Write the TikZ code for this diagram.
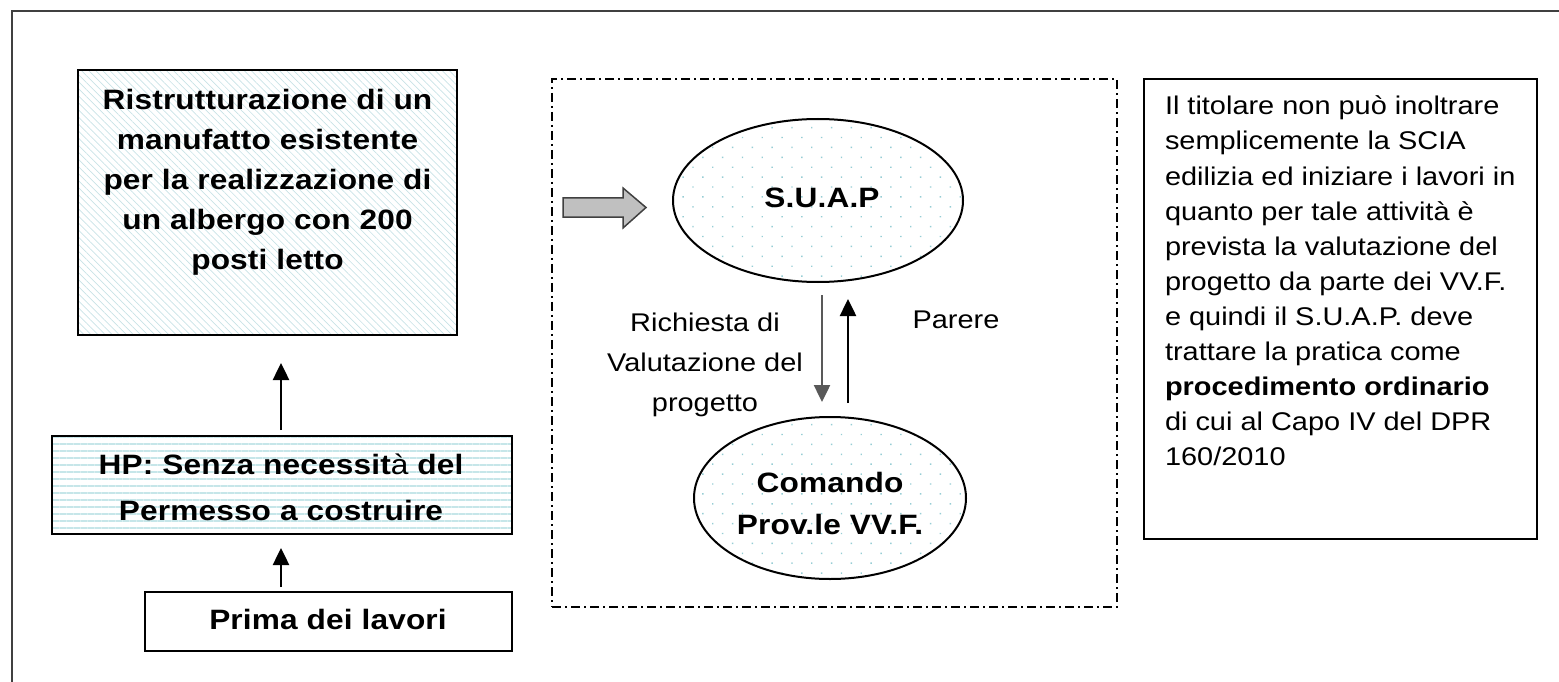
\documentclass[tikz,border=0pt]{standalone}
\usepackage{fontspec}
\setmainfont{Liberation Sans}[FakeStretch=1.13]
\newfontfamily\boxfont{Liberation Sans}[FakeStretch=1.13,LetterSpace=0.5]
\usetikzlibrary{arrows.meta,patterns.meta,shapes.geometric}

\definecolor{hatchblue}{RGB}{200,226,230}
\definecolor{stripeblue}{RGB}{198,230,233}
\definecolor{dotblue}{RGB}{150,205,212}
\definecolor{framegray}{RGB}{64,64,64}
\definecolor{arrowfill}{RGB}{192,192,192}

\begin{document}
\begin{tikzpicture}[x=1pt,y=-1pt,
  every node/.style={inner sep=0pt,outer sep=0pt},
  plaintext/.style={font=\fontsize{25.6}{40}\selectfont,align=center},
  boldtext/.style={font=\fontsize{28}{40}\boxfont\bfseries,align=center},
  stepbox/.style={draw=black,line width=2pt,rectangle},
  ovalbox/.style={draw=black,line width=2pt,ellipse,
    pattern={Dots[angle=45,distance=14pt,radius=1pt]},pattern color=dotblue},
  conn/.style={line width=2.5pt,-{Triangle[length=17pt,width=16pt]}},
]
\useasboundingbox (0,0) rectangle (1559,682);

% outer page frame (open to the right and bottom)
\draw[framegray,line width=2.5pt] (12,700) -- (12,11) -- (1575,11);

% left column: the case under study
\node[stepbox,minimum width=379pt,minimum height=265pt,
  pattern={Lines[angle=-45,distance=5pt,line width=0.7pt]},pattern color=hatchblue]
  (b1) at (267.5,202.5) {};
\node[boldtext] (b1t) at (267.5,182) {Ristrutturazione di un\\manufatto esistente\\per la realizzazione di\\un albergo con 200\\posti letto};

\node[stepbox,minimum width=460pt,minimum height=98pt,
  pattern={Lines[angle=0,distance=7pt,line width=1.4pt]},pattern color=stripeblue]
  (b2) at (282,485) {};
\node[boldtext,font=\fontsize{28}{46}\boxfont\bfseries] (b2t) at (281,487.1)
  {HP: Senza necessit{\mdseries à} del\\Permesso a costruire};

\node[stepbox,minimum width=367pt,minimum height=59pt] (b3) at (328.5,621.5) {};
\node[boldtext] (b3t) at (328,619.1) {Prima dei lavori};

\coordinate (ax) at (281,0);
\draw[conn,shorten <=6pt,shorten >=28pt] (b2.north -| ax) -- (b1.south -| ax);
\draw[conn,shorten <=5pt,shorten >=14pt] (b3.north -| ax) -- (b2.south -| ax);

% middle group: S.U.A.P. and fire brigade exchange
\node[draw=black,line width=2pt,dash pattern=on 9pt off 4pt on 2pt off 4pt,
  minimum width=565pt,minimum height=528pt] (grp) at (834.5,343) {};

\draw[draw=framegray,fill=arrowfill,line width=1.5pt,line join=miter]
  (563,198) -- (623,198) -- (623,188) -- (646,207.5) -- (623,228) -- (623,217) -- (563,217) -- cycle;

\node[ovalbox,minimum width=290pt,minimum height=163pt] (suap) at (818,200.5) {};
\node[boldtext] (suapt) at (822,198) {S.U.A.P};

\node[ovalbox,minimum width=272pt,minimum height=162pt] (cmd) at (830,498) {};
\node[boldtext,font=\fontsize{28}{42}\boxfont\bfseries] (cmdt) at (830,503.1) {Comando\\Prov.le VV.F.};

\coordinate (dx) at (822,0);
\coordinate (ux) at (848,0);
\draw[conn,draw=black!65,shorten <=13pt,shorten >=15pt] (suap.south -| dx) -- (cmd.north -| dx);
\draw[conn,shorten <=14pt,shorten >=17pt] (cmd.north -| ux) -- (suap.south -| ux);

\node[plaintext] (req) at (705,365) {Richiesta di\\Valutazione del\\progetto};
\node[plaintext] (par) at (956,319.5) {Parere};

% right column: note
\node[stepbox,minimum width=393pt,minimum height=460pt] (note) at (1340.5,309) {};
\node[font=\fontsize{25.6}{35.1}\selectfont,align=left,anchor=north west] (notet) at (1165,96)
  {Il titolare non può inoltrare\\semplicemente la SCIA\\edilizia ed iniziare i lavori in\\quanto per tale attività è\\prevista la valutazione del\\progetto da parte dei VV.F.\\e quindi il S.U.A.P. deve\\trattare la pratica come\\\textbf{procedimento ordinario}\\di cui al Capo IV del DPR\\160/2010};
\end{tikzpicture}
\end{document}
